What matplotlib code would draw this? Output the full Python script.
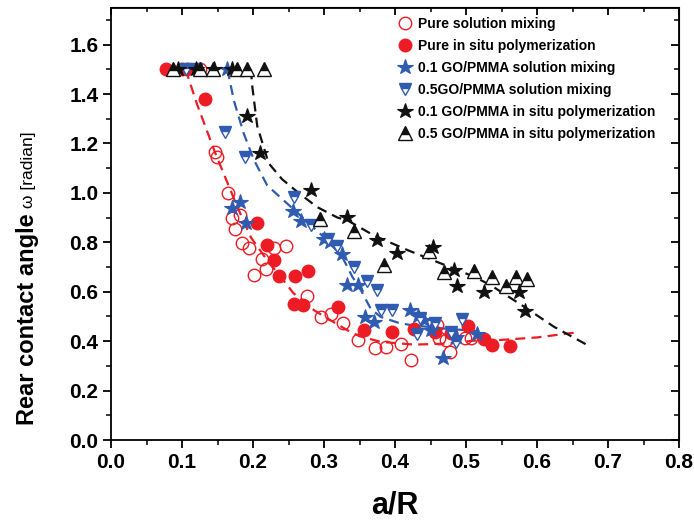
import matplotlib
matplotlib.use("Agg")
import matplotlib.pyplot as plt
from matplotlib.ticker import MultipleLocator

plt.rcParams['font.family'] = ['Liberation Sans', 'DejaVu Sans']

# ---- data ----
pure_sol_x = [0.100, 0.125, 0.147, 0.149, 0.165, 0.171, 0.182, 0.175, 0.185, 0.194, 0.229, 0.246,
              0.212, 0.219, 0.202, 0.276, 0.296, 0.310, 0.327, 0.348, 0.372, 0.388, 0.408, 0.422,
              0.459, 0.462, 0.472, 0.477, 0.499, 0.507]
pure_sol_y = [1.50, 1.50, 1.165, 1.145, 1.00, 0.90, 0.91, 0.855, 0.797, 0.776, 0.778, 0.784,
              0.734, 0.693, 0.668, 0.583, 0.497, 0.509, 0.474, 0.404, 0.374, 0.376, 0.388, 0.324,
              0.465, 0.411, 0.403, 0.357, 0.411, 0.414]

pure_insitu_x = [0.077, 0.107, 0.133, 0.205, 0.220, 0.230, 0.236, 0.259, 0.277, 0.258, 0.270, 0.320,
                 0.356, 0.396, 0.427, 0.457, 0.479, 0.503, 0.525, 0.537, 0.562]
pure_insitu_y = [1.50, 1.50, 1.38, 0.88, 0.79, 0.73, 0.665, 0.664, 0.684, 0.55, 0.545, 0.54,
                 0.444, 0.437, 0.448, 0.437, 0.434, 0.46, 0.407, 0.384, 0.38]

go01_sol_x = [0.163, 0.171, 0.182, 0.190, 0.257, 0.268, 0.300, 0.308, 0.326, 0.332, 0.348, 0.358,
              0.371, 0.421, 0.433, 0.441, 0.450, 0.467, 0.486, 0.516]
go01_sol_y = [1.50, 0.94, 0.963, 0.877, 0.928, 0.887, 0.815, 0.800, 0.754, 0.627, 0.626, 0.498,
              0.478, 0.525, 0.500, 0.485, 0.445, 0.332, 0.417, 0.430]

go05_sol_x = [0.105, 0.120, 0.161, 0.189, 0.258, 0.281, 0.306, 0.318, 0.342, 0.361, 0.375, 0.380,
              0.396, 0.431, 0.435, 0.457, 0.479, 0.486, 0.495]
go05_sol_y = [1.50, 1.50, 1.248, 1.147, 0.985, 0.869, 0.812, 0.785, 0.700, 0.643, 0.607, 0.525,
              0.527, 0.430, 0.492, 0.474, 0.438, 0.397, 0.489]

go01_insitu_x = [0.095, 0.120, 0.145, 0.170, 0.192, 0.210, 0.281, 0.333, 0.375, 0.403, 0.454, 0.483,
                 0.488, 0.526, 0.574, 0.583]
go01_insitu_y = [1.50, 1.50, 1.50, 1.50, 1.31, 1.163, 1.01, 0.903, 0.808, 0.755, 0.781, 0.686,
                 0.623, 0.599, 0.599, 0.523]

go05_insitu_x = [0.088, 0.126, 0.144, 0.178, 0.192, 0.215, 0.295, 0.342, 0.385, 0.448, 0.469, 0.511,
                 0.536, 0.556, 0.570, 0.586]
go05_insitu_y = [1.50, 1.50, 1.50, 1.50, 1.50, 1.50, 0.896, 0.846, 0.707, 0.765, 0.678, 0.685,
                 0.658, 0.622, 0.658, 0.651]

# dashed guide curves
fit_red_x = [0.105, 0.121, 0.147, 0.157, 0.178, 0.197, 0.220, 0.239, 0.257, 0.286, 0.309, 0.333,
             0.350, 0.380, 0.427, 0.474, 0.511, 0.550, 0.600, 0.652]
fit_red_y = [1.50, 1.36, 1.16, 1.09, 0.943, 0.82, 0.727, 0.66, 0.594, 0.525, 0.485, 0.444,
             0.420, 0.397, 0.386, 0.390, 0.402, 0.405, 0.415, 0.434]
fit_blue_x = [0.164, 0.173, 0.187, 0.201, 0.220, 0.245, 0.270, 0.300, 0.325, 0.340, 0.352, 0.366,
              0.380, 0.404, 0.422, 0.446, 0.469, 0.520]
fit_blue_y = [1.50, 1.374, 1.24, 1.135, 1.03, 0.965, 0.90, 0.82, 0.745, 0.66, 0.606, 0.53,
              0.498, 0.475, 0.465, 0.458, 0.451, 0.44]
fit_black_x = [0.197, 0.199, 0.206, 0.222, 0.241, 0.262, 0.290, 0.319, 0.333, 0.370, 0.418, 0.465,
               0.512, 0.535, 0.582, 0.624, 0.671]
fit_black_y = [1.50, 1.43, 1.27, 1.12, 1.055, 1.005, 0.943, 0.90, 0.889, 0.828, 0.768, 0.714,
               0.66, 0.626, 0.539, 0.458, 0.384]

labels = ["Pure solution mixing", "Pure in situ polymerization", "0.1 GO/PMMA solution mixing",
          "0.5GO/PMMA solution mixing", "0.1 GO/PMMA in situ polymerization",
          "0.5 GO/PMMA in situ polymerization"]
xticks = [0.0, 0.1, 0.2, 0.3, 0.4, 0.5, 0.6, 0.7, 0.8]
yticks = [0.0, 0.2, 0.4, 0.6, 0.8, 1.0, 1.2, 1.4, 1.6]

RED = '#ED1C24'
BLUE = '#2F5BB0'
BLACK = '#111111'

fig = plt.figure(figsize=(6.94, 5.23), dpi=100)
ax = fig.add_axes([111/694, 1-440/523, (679-111)/694, (440-7.5)/523])

dash = (0, (4.5, 2.8))
ax.plot(fit_red_x, fit_red_y, color=RED, lw=1.6, ls=dash, zorder=1)
ax.plot(fit_blue_x, fit_blue_y, color=BLUE, lw=1.6, ls=dash, zorder=1)
ax.plot(fit_black_x, fit_black_y, color=BLACK, lw=1.6, ls=dash, zorder=1)

ms = 9
ax.plot(pure_sol_x, pure_sol_y, 'o', ms=ms, mfc='none', mec=RED, mew=1.0, ls='none', label=labels[0], zorder=3)
ax.plot(pure_insitu_x, pure_insitu_y, 'o', ms=ms, mfc=RED, mec=RED, mew=1.0, ls='none', label=labels[1], zorder=3)
ax.plot(go01_sol_x, go01_sol_y, '*', ms=ms+2.5, mfc=BLUE, mec=BLUE, mew=0.8, ls='none', label=labels[2], zorder=3)
ax.plot(go05_sol_x, go05_sol_y, 'v', ms=ms, mfc=BLUE, mec=BLUE, mfcalt='white', fillstyle='top',
        mew=1.0, ls='none', label=labels[3], zorder=3)
ax.plot(go01_insitu_x, go01_insitu_y, '*', ms=ms+2.5, mfc=BLACK, mec=BLACK, mew=0.8, ls='none', label=labels[4], zorder=3)
ax.plot(go05_insitu_x, go05_insitu_y, '^', ms=ms+0.5, mfc=BLACK, mec=BLACK, mfcalt='white', fillstyle='top',
        mew=1.0, ls='none', label=labels[5], zorder=3)

ax.set_xlim(0, 0.8)
ax.set_ylim(0, 1.75)
ax.set_xticks(xticks)
ax.set_yticks(yticks)
ax.set_xticklabels([f"{v:.1f}" for v in xticks])
ax.set_yticklabels([f"{v:.1f}" for v in yticks])
ax.xaxis.set_minor_locator(MultipleLocator(0.05))
ax.yaxis.set_minor_locator(MultipleLocator(0.1))
for s in ax.spines.values():
    s.set_linewidth(1.3)
ax.tick_params(which='major', direction='out', length=6, width=1.3, labelsize=15, pad=3,
               top=False, right=False)
ax.tick_params(which='minor', direction='out', length=3.5, width=1.1, top=False, right=False)
for lab in ax.get_xticklabels() + ax.get_yticklabels():
    lab.set_fontweight('bold')

# mirrored inward ticks on top / right
axt = ax.secondary_xaxis('top')
axt.set_xticks(xticks)
axt.xaxis.set_minor_locator(MultipleLocator(0.05))
axt.tick_params(which='major', direction='in', length=6, width=1.3, labeltop=False)
axt.tick_params(which='minor', direction='in', length=3.5, width=1.1)
axt.set_xticklabels([])
axr = ax.secondary_yaxis('right')
axr.set_yticks(yticks)
axr.yaxis.set_minor_locator(MultipleLocator(0.1))
axr.tick_params(which='major', direction='in', length=6, width=1.3)
axr.tick_params(which='minor', direction='in', length=3.5, width=1.1)
axr.set_yticklabels([])

ax.set_xlabel("a/R", fontsize=22, fontweight='bold', labelpad=14)

t1 = fig.text(28/694, 1-425/523, "Rear contact angle", rotation=90, fontsize=17, fontweight='bold',
              ha='center', va='bottom')
fig.canvas.draw()
ax.annotate(" \u03c9 [radian]", xy=(0.5, 1.0), xycoords=t1, rotation=90, fontsize=12.5,
            ha='center', va='bottom')

leg = ax.legend(loc='upper left', bbox_to_anchor=(0.486, 1.0), frameon=False,
                prop={'weight': 'bold', 'size': 10}, handletextpad=0.3, labelspacing=0.57,
                handlelength=1.2, borderaxespad=0.3)

fig.savefig("out.png", dpi=100)
